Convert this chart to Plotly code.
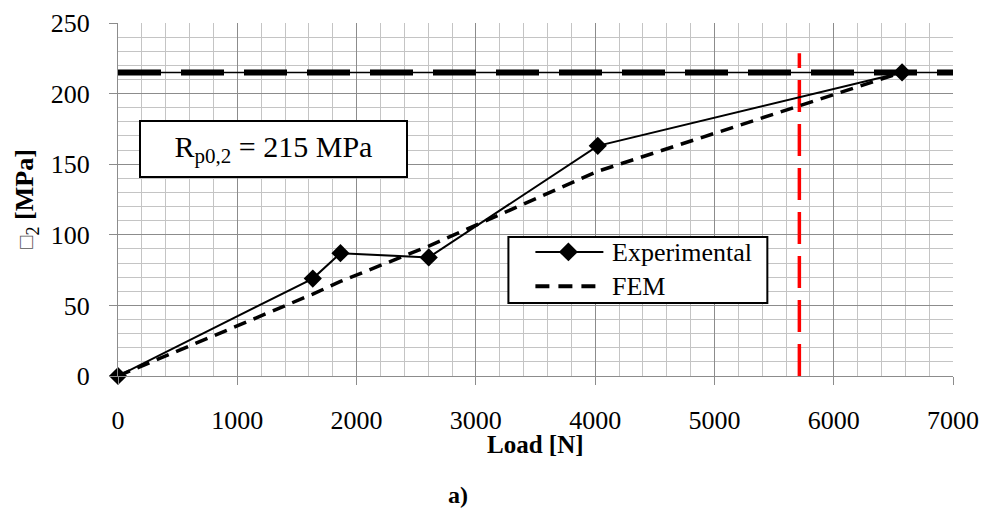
import plotly.graph_objects as go

# ---- data ----
exp_load = [0, 1633, 1865, 2605, 4022, 6573]
exp_stress = [0, 69, 87, 84, 163, 215]
fem_load = [0, 1633, 1865, 2605, 4022, 5712, 6573]
fem_stress = [0, 58, 67, 92, 145, 191, 215]
rp_load = [0, 7000]
rp_stress = [215, 215]
limit_load = [5712, 5712]
limit_stress = [0, 228.6]
x_ticks = [0, 1000, 2000, 3000, 4000, 5000, 6000, 7000]
y_ticks = [0, 50, 100, 150, 200, 250]

FONT = "Liberation Serif"
W, H = 985, 511
L, R, T, B = 117.5, 952.7, 22.5, 376.0


def xp(px):
    return (px - L) / (R - L)


def yp(py):
    return (B - py) / (B - T)


fig = go.Figure()

# Rp0.2 line: thin solid + thick long dashes
fig.add_trace(go.Scatter(x=rp_load, y=rp_stress, mode="lines",
                         line=dict(color="black", width=1.5),
                         showlegend=False, hoverinfo="skip"))
fig.add_trace(go.Scatter(x=rp_load, y=rp_stress, mode="lines",
                         line=dict(color="black", width=6, dash="43px,20px"),
                         showlegend=False, hoverinfo="skip"))
# red vertical limit line
fig.add_trace(go.Scatter(x=limit_load, y=limit_stress, mode="lines",
                         line=dict(color="#ff0000", width=3.5, dash="32px,12px"),
                         showlegend=False, hoverinfo="skip"))
# FEM
fig.add_trace(go.Scatter(x=fem_load, y=fem_stress, mode="lines", name="FEM",
                         line=dict(color="black", width=3.5, dash="13px,8px"),
                         showlegend=False, cliponaxis=False))
# Experimental
fig.add_trace(go.Scatter(x=exp_load, y=exp_stress, mode="lines+markers",
                         name="Experimental",
                         line=dict(color="black", width=2),
                         marker=dict(symbol="diamond", size=14, color="black"),
                         showlegend=False, cliponaxis=False))

axis_common = dict(
    showgrid=True, gridcolor="#8c8c8c", gridwidth=1,
    showline=True, linecolor="#8c8c8c", linewidth=1,
    ticks="outside", ticklen=8, tickcolor="#8c8c8c", tickwidth=1,
    tickfont=dict(family=FONT, size=26, color="black"),
    zeroline=False, automargin=False,
)

fig.update_xaxes(range=[0, 7000], tickvals=x_ticks, ticklabelstandoff=13,
                 minor=dict(dtick=200, showgrid=True, gridcolor="#c4c4c4",
                            gridwidth=1, ticks=""),
                 **axis_common)
fig.update_yaxes(range=[0, 250], tickvals=y_ticks, ticklabelstandoff=14,
                 minor=dict(dtick=10, showgrid=True, gridcolor="#c4c4c4",
                            gridwidth=1, ticks=""),
                 **axis_common)

shapes = []
# legend box
shapes.append(dict(type="rect", xref="paper", yref="paper",
                   x0=xp(508), x1=xp(767), y0=yp(303), y1=yp(236.7),
                   line=dict(color="black", width=2), fillcolor="white",
                   layer="above"))
# experimental sample
shapes.append(dict(type="line", xref="paper", yref="paper",
                   x0=xp(535), x1=xp(603), y0=yp(251.7), y1=yp(251.7),
                   line=dict(color="black", width=2), layer="above"))
cx, cy, hw = 568, 251.7, 9.5
shapes.append(dict(type="path", xref="paper", yref="paper",
                   path=(f"M {xp(cx - hw)},{yp(cy)} L {xp(cx)},{yp(cy - hw)} "
                         f"L {xp(cx + hw)},{yp(cy)} L {xp(cx)},{yp(cy + hw)} Z"),
                   fillcolor="black", line=dict(color="black", width=0),
                   layer="above"))
# FEM sample
shapes.append(dict(type="line", xref="paper", yref="paper",
                   x0=xp(535), x1=xp(603), y0=yp(286), y1=yp(286),
                   line=dict(color="black", width=4, dash="14px,9px"),
                   layer="above"))

annotations = [
    dict(xref="paper", yref="paper", x=xp(610), y=yp(252), xanchor="left",
         yanchor="middle", text="Experimental", showarrow=False,
         font=dict(family=FONT, size=26, color="black")),
    dict(xref="paper", yref="paper", x=xp(610), y=yp(286), xanchor="left",
         yanchor="middle", text="FEM", showarrow=False,
         font=dict(family=FONT, size=26, color="black")),
    dict(xref="paper", yref="paper", x=xp(273.5), y=yp(149), xanchor="center",
         yanchor="middle", text="R<sub>p0,2</sub> = 215 MPa", showarrow=False,
         font=dict(family=FONT, size=30, color="black"),
         bgcolor="white", bordercolor="black", borderwidth=2, borderpad=0,
         width=265, height=54),
    dict(xref="paper", yref="paper", x=xp(535), y=yp(445), xanchor="center",
         yanchor="middle", text="<b>Load [N]</b>", showarrow=False,
         font=dict(family=FONT, size=25, color="black")),
    dict(xref="paper", yref="paper", x=xp(458), y=yp(495), xanchor="center",
         yanchor="middle", text="<b>a)</b>", showarrow=False,
         font=dict(family=FONT, size=24, color="black")),
    dict(xref="paper", yref="paper", x=xp(26), y=yp(199), xanchor="center",
         yanchor="middle", textangle=-90,
         text="<span style='font-size:22px;color:#555'>□</span><sub>2</sub> <b>[MPa]</b>",
         showarrow=False,
         font=dict(family=FONT, size=26, color="black")),
]

fig.update_layout(
    width=W, height=H,
    margin=dict(l=L, r=W - R, t=T, b=H - B, pad=0),
    plot_bgcolor="white", paper_bgcolor="white",
    showlegend=False,
    shapes=shapes, annotations=annotations,
)

fig.write_html("out.html",
               config={"displayModeBar": False},
               post_script="document.body.style.margin='0px';"
                           "document.body.style.padding='0px';")
